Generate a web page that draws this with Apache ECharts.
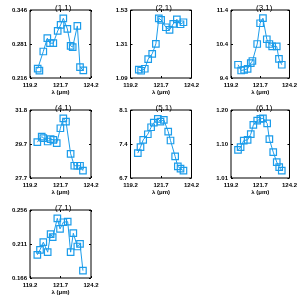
<!DOCTYPE html>
<html>
<head>
<meta charset="utf-8">
<script src="https://cdn.jsdelivr.net/npm/echarts@6/dist/echarts.min.js"></script>
<style>
html, body { margin: 0; padding: 0; background: #fff; }
#chart { width: 300px; height: 300px; }
</style>
</head>
<body>
<div id="chart"></div>
<script>
// panel titles
var titles = ['(1,1)', '(2,1)', '(3,1)', '(4,1)', '(5,1)', '(6,1)', '(7,1)'];

// wavelength axis
var xTicks = [119.2, 121.7, 124.2];
var xTickLabels = ['119.2', '121.7', '124.2'];

// wavelengths of each panel's points
var x1 = [119.83, 119.97, 120.29, 120.62, 120.84, 121.11, 121.47, 121.71, 121.93, 122.26, 122.53, 122.70, 123.08, 123.30, 123.57];
var x2 = [119.88, 120.07, 120.37, 120.65, 120.98, 121.28, 121.52, 121.71, 122.10, 122.40, 122.70, 123.00, 123.30, 123.54];
var x3 = [119.80, 120.07, 120.32, 120.62, 120.89, 121.03, 121.44, 121.69, 121.93, 122.26, 122.48, 122.72, 123.11, 123.30, 123.54];
var x4 = [119.80, 120.16, 120.29, 120.65, 120.89, 121.11, 121.39, 121.69, 121.93, 122.15, 122.53, 122.83, 123.08, 123.30, 123.54];
var x5 = [119.80, 120.02, 120.24, 120.62, 120.89, 121.11, 121.44, 121.66, 121.93, 122.29, 122.48, 122.86, 123.08, 123.30, 123.54];
var x6 = [119.80, 120.02, 120.29, 120.62, 120.89, 121.11, 121.44, 121.71, 121.93, 122.29, 122.48, 122.81, 123.11, 123.32, 123.54];
var x7 = [119.80, 120.02, 120.29, 120.65, 120.89, 121.06, 121.44, 121.66, 121.93, 122.29, 122.53, 122.75, 123.08, 123.30, 123.54];

// values of each panel
var y1 = [0.2338, 0.2300, 0.2667, 0.2921, 0.2826, 0.2826, 0.3060, 0.3175, 0.3301, 0.3099, 0.2775, 0.2750, 0.3156, 0.2369, 0.2306];
var y2 = [1.1437, 1.1370, 1.1500, 1.2123, 1.2467, 1.3110, 1.4763, 1.4656, 1.4184, 1.4012, 1.4399, 1.4699, 1.4377, 1.4506];
var y3 = [9.79, 9.62, 9.64, 9.67, 9.84, 9.90, 10.40, 11.01, 11.16, 10.54, 10.40, 10.33, 10.33, 9.96, 9.79];
var y4 = [29.86, 30.20, 30.10, 29.90, 30.04, 30.00, 29.80, 30.70, 31.30, 31.10, 29.16, 28.44, 28.44, 28.44, 28.14];
var y5 = [7.212, 7.335, 7.485, 7.601, 7.745, 7.840, 7.916, 7.861, 7.895, 7.656, 7.472, 7.144, 6.939, 6.891, 6.850];
var y6 = [1.0888, 1.0962, 1.1147, 1.1166, 1.1324, 1.1583, 1.1703, 1.1750, 1.1768, 1.1629, 1.1184, 1.0823, 1.0545, 1.0406, 1.0304];
var y7 = [0.1967, 0.2033, 0.2134, 0.2002, 0.2240, 0.2200, 0.2450, 0.2310, 0.2398, 0.2406, 0.2002, 0.2253, 0.2077, 0.2112, 0.1757];

// y tick values and labels (min, mid, max) per panel
var yTicks = [
  [0.216, 0.281, 0.346],
  [1.09, 1.31, 1.53],
  [9.4, 10.4, 11.4],
  [27.7, 29.75, 31.8],
  [6.7, 7.4, 8.1],
  [1.01, 1.105, 1.20],
  [0.166, 0.211, 0.256]
];
var yTickLabels = [
  ['0.216', '0.281', '0.346'],
  ['1.09', '1.31', '1.53'],
  ['9.4', '10.4', '11.4'],
  ['27.7', '29.7', '31.8'],
  ['6.7', '7.4', '8.1'],
  ['1.01', '1.10', '1.20'],
  ['0.166', '0.211', '0.256']
];

(function () {
  var xs = [x1, x2, x3, x4, x5, x6, x7];
  var ys = [y1, y2, y3, y4, y5, y6, y7];

  var blue = '#1b9cea';
  var font = 'Liberation Sans';

  function lookup(ticks, labels) {
    return function (v) {
      var best = 0;
      for (var i = 1; i < ticks.length; i++) {
        if (Math.abs(ticks[i] - v) < Math.abs(ticks[best] - v)) best = i;
      }
      return labels[best];
    };
  }

  var grids = [], xAxes = [], yAxes = [], series = [], heads = [];
  for (var k = 0; k < 7; k++) {
    var col = k % 3, row = Math.floor(k / 3);
    var gx = 30 + col * 100.5, gy = 10 + row * 100;
    grids.push({ left: gx, top: gy, width: 61, height: 68, show: true, borderColor: '#000', borderWidth: 1 });
    heads.push({
      text: titles[k], left: gx + 20, top: gy - 11,
      textStyle: { fontSize: 8, fontWeight: 'normal', fontFamily: font, color: '#000' }
    });
    var yt = yTicks[k];
    var tick = { show: true, inside: true, length: 2, lineStyle: { color: '#000', width: 1 } };
    xAxes.push({
      type: 'value', gridIndex: k, min: xTicks[0], max: xTicks[2], interval: xTicks[1] - xTicks[0],
      position: 'bottom',
      name: 'λ (μm)', nameLocation: 'middle', nameGap: 11,
      nameTextStyle: { fontSize: 6, fontWeight: 'bold', fontFamily: font, color: '#000' },
      splitLine: { show: false }, axisLine: { show: false }, axisTick: tick,
      axisLabel: { show: true, fontSize: 6, fontWeight: 'bold', fontFamily: font, color: '#000', margin: 4, formatter: lookup(xTicks, xTickLabels) }
    });
    xAxes.push({
      type: 'value', gridIndex: k, min: xTicks[0], max: xTicks[2], interval: xTicks[1] - xTicks[0],
      position: 'top', splitLine: { show: false }, axisLine: { show: false }, axisTick: tick,
      axisLabel: { show: false }
    });
    yAxes.push({
      type: 'value', gridIndex: k, min: yt[0], max: yt[2], interval: yt[1] - yt[0],
      position: 'left',
      splitLine: { show: false }, axisLine: { show: false }, axisTick: tick,
      axisLabel: { show: true, fontSize: 6, fontWeight: 'bold', fontFamily: font, color: '#000', margin: 3, formatter: lookup(yt, yTickLabels[k]) }
    });
    yAxes.push({
      type: 'value', gridIndex: k, min: yt[0], max: yt[2], interval: yt[1] - yt[0],
      position: 'right', splitLine: { show: false }, axisLine: { show: false }, axisTick: tick,
      axisLabel: { show: false }
    });
    var pts = xs[k].map(function (x, i) { return [x, ys[k][i]]; });
    series.push({
      type: 'line', xAxisIndex: 2 * k, yAxisIndex: 2 * k, data: pts,
      symbol: 'rect', symbolSize: 6.5, showAllSymbol: true,
      lineStyle: { color: blue, width: 1 },
      itemStyle: { color: 'rgba(0,0,0,0)', borderColor: blue, borderWidth: 1.2 }
    });
  }

  var chart = echarts.init(document.getElementById('chart'));
  chart.setOption({
    animation: false,
    title: heads,
    grid: grids,
    xAxis: xAxes,
    yAxis: yAxes,
    series: series
  });
})();
</script>
</body>
</html>
